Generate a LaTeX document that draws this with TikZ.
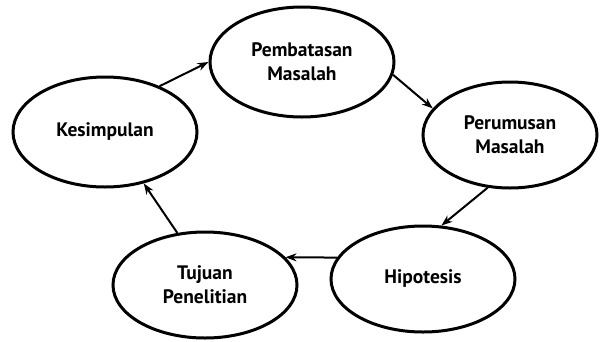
\documentclass[tikz,border=0pt]{standalone}
\usepackage{fontspec}
\setmainfont{PT Sans}
\usetikzlibrary{shapes.geometric,arrows.meta}
\begin{document}
\begin{tikzpicture}[>={Stealth[length=11pt,width=8pt]},x=1pt,y=-1pt,font=\bfseries\fontsize{19.5}{24}\selectfont,
		langkah/.style={draw,ellipse,line width=3pt,minimum width=184pt,minimum height=110pt,inner sep=0pt,align=center},
		panah/.style={->,line width=2pt}]
			\useasboundingbox (0,0) rectangle (600,341);
			\node[langkah] (kes) at (105,132) {Kesimpulan};
			\node[langkah] (pem) at (302,62) {Pembatasan\\Masalah};
			\node[langkah,minimum width=174pt,minimum height=106pt] (per) at (510,135) {Perumusan\\Masalah};
			\node[langkah,minimum height=106pt] (hip) at (423,279) {Hipotesis};
			\node[langkah,minimum height=106pt] (tuj) at (205,285) {Tujuan\\Penelitian};
			\draw[panah] (kes.40)--(pem.180);
			\draw[panah] (pem.-8)--(per.161);
			\draw[panah] (per.247)--(hip.71);
			\draw[panah] (hip.166)--(tuj.19);
			\draw[panah] (tuj.118)--(kes.307);
		\end{tikzpicture}
\end{document}
